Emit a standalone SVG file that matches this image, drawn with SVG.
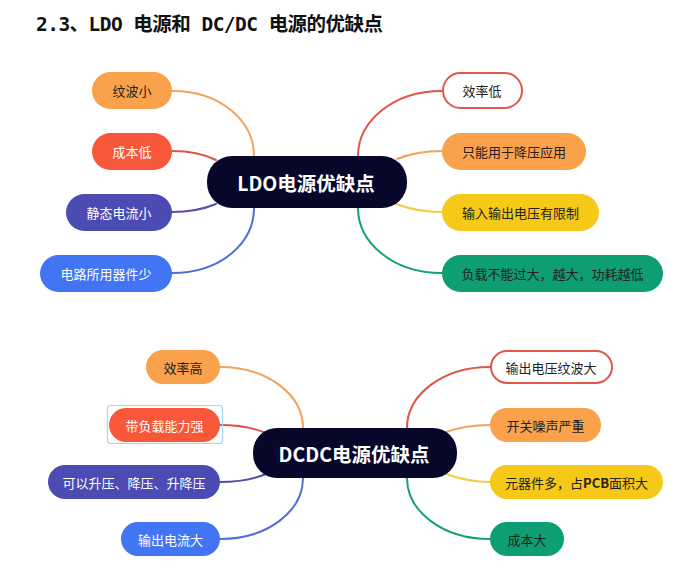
<svg xmlns="http://www.w3.org/2000/svg" width="700" height="583" viewBox="0 0 700 583">
<style>
.t{font-family:"Noto Sans CJK SC","Noto Sans",sans-serif;font-size:13px;text-anchor:middle;dominant-baseline:central}
.dk{fill:#222}
.wt{fill:#fff}
.ct{font-family:"Noto Sans CJK SC","Noto Sans",sans-serif;font-size:19.5px;font-weight:bold;fill:#fff;text-anchor:middle;dominant-baseline:central}
.c path{fill:none;stroke-width:2;stroke-linecap:round}
.or{fill:#F9A24B}.rd{fill:#F9573A}.pu{fill:#4C4BB3}.bl{fill:#4175F4}.ye{fill:#F6C818}.gr{fill:#0E9E73}
.wh{fill:#fff;stroke:#E2574C;stroke-width:2}
.cen{fill:#07072B}
</style>
<rect width="700" height="583" fill="#fff"/>
<text x="36" y="31" font-family="'DejaVu Sans Mono','Noto Sans CJK SC',monospace" font-size="19.5" font-weight="bold" fill="#111" textLength="347" lengthAdjust="spacing">2.3、LDO 电源和 DC/DC 电源的优缺点</text>

<g id="connectors" class="c">
<path d="M172,91 C222,91 254,122 254,156" stroke="#EFA45C"/>
<path d="M172,151 C192,151 204,154 216,160" stroke="#D5574F"/>
<path d="M172,212 C192,212 204,209 216,204" stroke="#5250A8"/>
<path d="M172,273 C222,273 254,242 254,208" stroke="#4F6FD6"/>
<path d="M358,156 C358,122 392,91 442,91" stroke="#DF5548"/>
<path d="M397,159 C412,153 425,151 442,151" stroke="#EFA45C"/>
<path d="M396,204 C412,210 425,212 442,212" stroke="#F1CD44"/>
<path d="M358,208 C358,242 392,273 442,273" stroke="#17A07A"/>

<path d="M220,367 C268,367 303,395 303,428" stroke="#EFA45C"/>
<path d="M220,425 C240,425 254,428 266,433" stroke="#D5574F"/>
<path d="M220,482 C240,482 254,479 266,474" stroke="#5250A8"/>
<path d="M220,539 C268,539 303,511 303,478" stroke="#4F6FD6"/>
<path d="M407,428 C407,395 442,367 490,367" stroke="#DF5548"/>
<path d="M446,432 C460,427 474,425 490,425" stroke="#EFA45C"/>
<path d="M446,474 C460,479 474,482 490,482" stroke="#F1CD44"/>
<path d="M407,478 C407,511 442,539 490,539" stroke="#17A07A"/>
</g>

<g id="ldo">
<rect class="cen" x="207" y="156" width="200" height="52" rx="25"/>
<text class="ct" x="306" y="182">LDO电源优缺点</text>
</g>
<g id="ldo-l1"><rect class="or" x="92" y="72" width="80" height="37" rx="18.5"/><text class="t dk" x="132" y="90.5">纹波小</text></g>
<g id="ldo-l2"><rect class="rd" x="92" y="133" width="80" height="37" rx="18.5"/><text class="t wt" x="132" y="151.5">成本低</text></g>
<g id="ldo-l3"><rect class="pu" x="66" y="194" width="106" height="37" rx="18.5"/><text class="t wt" x="119" y="212.5">静态电流小</text></g>
<g id="ldo-l4"><rect class="bl" x="40" y="255" width="132" height="37" rx="18.5"/><text class="t wt" x="106" y="273.5">电路所用器件少</text></g>
<g id="ldo-r1"><rect class="wh" x="443" y="73" width="79" height="35" rx="17.5"/><text class="t dk" x="482" y="90.5">效率低</text></g>
<g id="ldo-r2"><rect class="or" x="442" y="133" width="144" height="37" rx="18.5"/><text class="t dk" x="514" y="151.5">只能用于降压应用</text></g>
<g id="ldo-r3"><rect class="ye" x="442" y="194" width="157" height="37" rx="18.5"/><text class="t dk" x="520.5" y="212.5">输入输出电压有限制</text></g>
<g id="ldo-r4"><rect class="gr" x="442" y="255" width="221" height="37" rx="18.5"/><text class="t dk" x="552.5" y="273.5">负载不能过大，越大，功耗越低</text></g>

<g id="dcdc">
<rect class="cen" x="253" y="428" width="204" height="50" rx="24"/>
<text class="ct" x="354" y="453">DCDC电源优缺点</text>
</g>
<g id="dc-l1"><rect class="or" x="146" y="350" width="74" height="34" rx="17"/><text class="t dk" x="183" y="367">效率高</text></g>
<g id="dc-l2"><rect x="107.5" y="405.5" width="115" height="38" rx="3" fill="none" stroke="#A6D6F2" stroke-width="1.2"/><rect class="rd" x="109" y="408" width="111" height="34" rx="17"/><text class="t wt" x="164.5" y="425">带负载能力强</text></g>
<g id="dc-l3"><rect class="pu" x="48" y="465" width="172" height="34" rx="17"/><text class="t wt" x="134" y="482">可以升压、降压、升降压</text></g>
<g id="dc-l4"><rect class="bl" x="121" y="522" width="99" height="34" rx="17"/><text class="t wt" x="170.5" y="539">输出电流大</text></g>
<g id="dc-r1"><rect class="wh" x="491" y="351" width="121" height="32" rx="16"/><text class="t dk" x="551" y="367">输出电压纹波大</text></g>
<g id="dc-r2"><rect class="or" x="490" y="408" width="111" height="34" rx="17"/><text class="t dk" x="545.5" y="425">开关噪声严重</text></g>
<g id="dc-r3"><rect class="ye" x="490" y="465" width="173" height="34" rx="17"/><text class="t dk" x="576.5" y="482">元器件多，占<tspan font-weight="bold">PCB</tspan>面积大</text></g>
<g id="dc-r4"><rect class="gr" x="490" y="522" width="74" height="34" rx="17"/><text class="t dk" x="527" y="539">成本大</text></g>
</svg>
